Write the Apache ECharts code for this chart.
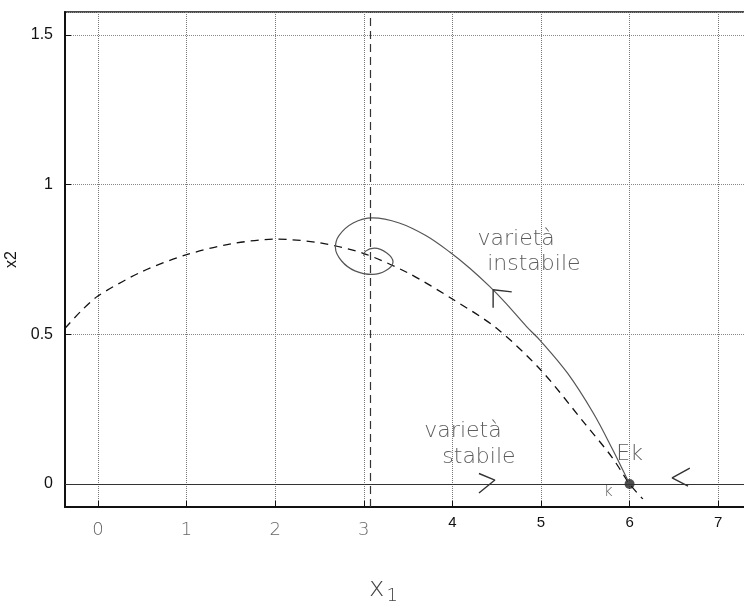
<!DOCTYPE html>
<html><head><meta charset="utf-8">
<script src="https://cdn.jsdelivr.net/npm/echarts@6/dist/echarts.min.js"></script>
<style>html,body{margin:0;padding:0;background:#fff}#c{width:744px;height:607px}</style>
</head><body><div id="c"></div>
<script>
// ---- data ----
var xTicks = [0, 1, 2, 3, 4, 5, 6, 7];
var handTicks = [0, 1, 2, 3]; // labels written by hand in the reference
var yTicks = [0, 0.5, 1, 1.5];
var xRange = [-0.372, 7.314];
var yRange = [-0.077, 1.577];
// stable manifold of the saddle at x1 = 3.07 (dashed curve)
var dashedCurve = [[-0.372,0.52],[-0.2,0.575],[0,0.628],[0.5,0.71],[1,0.766],[1.5,0.802],[2,0.818],[2.5,0.806],[3,0.77],[3.5,0.705],[4,0.618],[4.5,0.52],[5,0.38],[5.5,0.2],[5.8,0.09],[6,0],[6.15,-0.05]];
// unstable manifold from Ek spiralling into (3.07, 0.77)
var unstableCurve = [[6.0,0],[5.8,0.12],[5.59,0.237],[5.3,0.37],[4.99,0.48],[4.84,0.525],[4.6,0.605],[4.42,0.66],[4.2,0.72],[3.97,0.775],[3.7,0.83],[3.4,0.872],[3.1,0.889],[2.88,0.872],[2.72,0.83],[2.68,0.79],[2.75,0.745],[2.9,0.712],[3.1,0.7],[3.25,0.713],[3.33,0.742],[3.26,0.772],[3.12,0.788],[3.02,0.778],[3.0,0.762]];
var separatrixX = 3.07;
var equilibrium = [[6.0, 0]];
var arrows = [
  [[4.67,0.642],[4.46,0.649],[4.46,0.589]],
  [[4.3,0.035],[4.48,0.013],[4.3,-0.03]],
  [[6.68,0.053],[6.48,0.02],[6.66,-0.007]]
];
var noteTexts = ['varietà', 'instabile', 'varietà', 'stabile', 'Ek', 'k'];
var notePos = [[4.72,0.818],[4.92,0.735],[4.12,0.176],[4.3,0.09],[6.0,0.098],[5.76,-0.026]];
var noteSizes = [22, 22, 22, 22, 22, 15];

var chart = echarts.init(document.getElementById('c'));
var series = [];
series.push({
  type: 'line', data: [], silent: true,
  markLine: {
    symbol: 'none', silent: true, label: {show: false},
    data: [
      {yAxis: 0, lineStyle: {color: '#333', width: 1.2, type: 'solid'}},
      {xAxis: separatrixX, lineStyle: {color: '#333', width: 1.2, type: [8, 5]}}
    ]
  }
});
series.push({type: 'line', data: dashedCurve, smooth: 0.3, symbol: 'none',
  lineStyle: {color: '#111', width: 1.3, type: [8, 6]}});
series.push({type: 'line', data: unstableCurve, smooth: 0.35, symbol: 'none',
  lineStyle: {color: '#555', width: 1.2}});
arrows.forEach(function (a) {
  series.push({type: 'line', data: a, symbol: 'none', lineStyle: {color: '#333', width: 1.4}});
});
series.push({type: 'scatter', data: equilibrium, symbolSize: 10, itemStyle: {color: '#222'}});
series.push({
  type: 'scatter', symbolSize: 0,
  data: noteTexts.map(function (t, i) {
    return {value: notePos[i], name: t,
      label: {show: true, position: 'inside', formatter: t, fontSize: noteSizes[i],
        color: '#333', fontFamily: 'DejaVu Sans', fontWeight: 200}};
  })
});

chart.setOption({
  animation: false,
  backgroundColor: '#fff',
  grid: {left: 65, top: 12, right: -2, bottom: 100, show: true, borderColor: '#111', borderWidth: 1.5,
    outerBoundsMode: 'none', containLabel: false},
  xAxis: {
    type: 'value', min: xRange[0], max: xRange[1], splitNumber: 8, minInterval: 1, maxInterval: 1,
    name: '{x|x}{s|1}', nameLocation: 'middle', nameGap: 66,
    nameTextStyle: {padding: [0, 44, 0, 0],
      rich: {
        x: {fontSize: 26, color: '#444', fontFamily: 'DejaVu Sans', fontWeight: 200},
        s: {fontSize: 18, color: '#444', fontFamily: 'DejaVu Sans', fontWeight: 200, padding: [14, 0, 0, 2]}
      }},
    axisLine: {show: true, onZero: false, lineStyle: {color: '#111', width: 2}},
    axisTick: {show: true, inside: true, length: 6, lineStyle: {color: '#111'}},
    axisLabel: {showMinLabel: false, showMaxLabel: false, margin: 8,
      formatter: function (v) {
        if (xTicks.indexOf(v) < 0) return '';
        return handTicks.indexOf(v) >= 0 ? '{h|' + v + '}' : '{p|' + v + '}';
      },
      rich: {
        p: {fontSize: 15, fontFamily: 'Liberation Sans', color: '#111'},
        h: {fontSize: 18, fontFamily: 'DejaVu Sans', fontWeight: 200, color: '#666', padding: [6, 0, 0, 0]}
      }},
    splitLine: {show: true, lineStyle: {color: '#777', type: 'dotted', width: 1}}
  },
  yAxis: {
    type: 'value', min: yRange[0], max: yRange[1], splitNumber: 3, minInterval: 0.5, maxInterval: 0.5,
    name: 'x2', nameLocation: 'middle', nameGap: 35, nameRotate: 90,
    nameTextStyle: {fontSize: 16, color: '#111', fontFamily: 'Liberation Sans'},
    axisLine: {show: true, onZero: false, lineStyle: {color: '#111', width: 2}},
    axisTick: {show: true, inside: true, length: 6, lineStyle: {color: '#111'}},
    axisLabel: {showMinLabel: false, showMaxLabel: false, margin: 12, fontSize: 16,
      fontFamily: 'Liberation Sans', color: '#111',
      formatter: function (v) { return yTicks.indexOf(v) >= 0 ? String(v) : ''; }},
    splitLine: {show: true, lineStyle: {color: '#888', type: 'dotted', width: 1}}
  },
  series: series
});
</script></body></html>
